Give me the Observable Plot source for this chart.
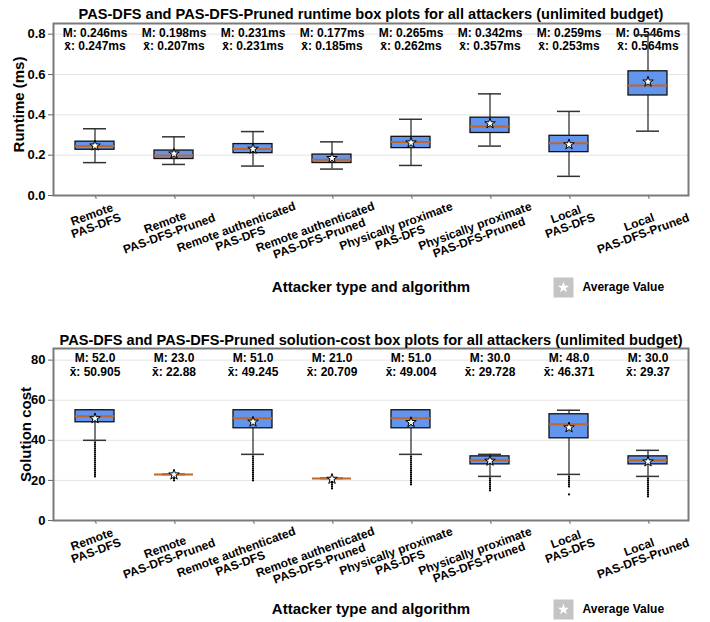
<!DOCTYPE html>
<html><head><meta charset="utf-8">
<script src="https://cdn.jsdelivr.net/npm/d3@7"></script>
<script src="https://cdn.jsdelivr.net/npm/@observablehq/plot@0.6"></script>
<style>
body{margin:0;background:#fff;}
#wrap{width:710px;}
#wrap svg{display:block;}
</style></head><body><div id="wrap"></div>
<script>
const categories = ["Remote\nPAS-DFS", "Remote\nPAS-DFS-Pruned", "Remote authenticated\nPAS-DFS", "Remote authenticated\nPAS-DFS-Pruned", "Physically proximate\nPAS-DFS", "Physically proximate\nPAS-DFS-Pruned", "Local\nPAS-DFS", "Local\nPAS-DFS-Pruned"];

// Runtime (ms)
const rtWhiskerLow  = [0.163, 0.154, 0.146, 0.131, 0.149, 0.245, 0.095, 0.319];
const rtQ1          = [0.227, 0.181, 0.210, 0.161, 0.235, 0.310, 0.215, 0.496];
const rtMedian      = [0.246, 0.198, 0.231, 0.177, 0.265, 0.342, 0.259, 0.546];
const rtQ3          = [0.267, 0.223, 0.255, 0.203, 0.291, 0.386, 0.296, 0.616];
const rtWhiskerHigh = [0.331, 0.291, 0.317, 0.266, 0.378, 0.504, 0.417, 0.797];
const rtMean        = [0.247, 0.207, 0.231, 0.185, 0.262, 0.357, 0.253, 0.564];
const rtOutliers    = [[], [], [], [], [], [], [], []];
const rtYTicks      = [0, 0.2, 0.4, 0.6, 0.8];

// Solution cost
const costWhiskerLow  = [40, 23, 33, 21, 33, 22, 23, 22];
const costQ1          = [49, 23, 46, 21, 46, 28, 41, 28];
const costMedian      = [52, 23, 51, 21, 51, 30, 48, 30];
const costQ3          = [55, 23, 55, 21, 55, 32, 53, 32];
const costWhiskerHigh = [55, 23, 55, 21, 55, 33, 55, 35];
const costMean        = [50.905, 22.88, 49.245, 20.709, 49.004, 29.728, 46.371, 29.37];
const costOutliers = [
  [22, 23, 24, 25, 26, 27, 28, 29, 30, 31, 32, 33, 34, 35, 36, 37, 38, 39],
  [20, 21, 22],
  [20, 21, 22, 23, 24, 25, 26, 27, 28, 29, 30, 31, 32],
  [16, 17, 18, 19, 20],
  [18, 19, 20, 21, 22, 23, 24, 25, 26, 27, 28, 29, 30, 31, 32],
  [15, 16, 17, 18, 19, 20, 21],
  [13, 17, 18, 19, 20, 21, 22],
  [12, 13, 14, 15, 16, 17, 18, 19, 20, 21]
];
const costYTicks = [0, 20, 40, 60, 80];

const FONT = '"Liberation Sans", Arial, Helvetica, sans-serif';

function boxChart(o) {
  const rows = categories.map((c, i) => ({
    c, lo: o.lo[i], q1: o.q1[i], med: o.med[i], q3: o.q3[i], hi: o.hi[i], mean: o.mean[i],
    mt: o.mFmt(o.med[i]), xt: o.xFmt(o.mean[i])
  }));
  const outs = o.outliers.flatMap((arr, i) => arr.map(v => ({c: categories[i], v})));
  const svg = Plot.plot({
    width: 710, height: o.height,
    marginLeft: 53, marginRight: 22, marginTop: o.marginTop, marginBottom: o.marginBottom,
    style: {fontFamily: FONT, fontWeight: "bold", fontSize: "12px", background: "white", color: "black", overflow: "visible"},
    x: {type: "band", domain: categories, padding: 0, align: 0.5},
    y: {domain: o.yDomain},
    marks: [
      Plot.gridY(o.yTicks, {stroke: "#e4e4e4", strokeOpacity: 1, strokeWidth: 1}),
      Plot.axisY(o.yTicks, {tickFormat: o.yTickFormat, tickSize: 5, tickPadding: 3, fontSize: 13, label: null, stroke: "#666"}),
      Plot.axisX({tickSize: 4, tickPadding: 4, label: null, rotate: -20, textAnchor: "middle", lineAnchor: "middle", fontSize: 12, stroke: "#666"}),
      Plot.text(rows, {x: "c", text: "mt", frameAnchor: "top", dy: 10, lineAnchor: "middle", fontSize: 12}),
      Plot.text(rows, {x: "c", text: "xt", frameAnchor: "top", dy: o.line2Dy, lineAnchor: "middle", fontSize: 12}),
      Plot.ruleX(rows, {x: "c", y1: "lo", y2: "q1", stroke: "#222", strokeWidth: 1.2}),
      Plot.ruleX(rows, {x: "c", y1: "q3", y2: "hi", stroke: "#222", strokeWidth: 1.2}),
      Plot.tickY(rows, {x: "c", y: "lo", inset: 28, stroke: "#333", strokeWidth: 1.5}),
      Plot.tickY(rows, {x: "c", y: "hi", inset: 28, stroke: "#333", strokeWidth: 1.5}),
      Plot.barY(rows, {x: "c", y1: "q1", y2: "q3", fill: "#6495ED", stroke: "#111", strokeWidth: 1.3, insetLeft: 20, insetRight: 20}),
      Plot.tickY(rows, {x: "c", y: "med", stroke: "#c0662b", strokeWidth: 2, inset: 20}),
      Plot.dot(outs, {x: "c", y: "v", r: 1.1, fill: "black", stroke: null}),
      Plot.dot(rows, {x: "c", y: "mean", symbol: "star", r: 3.3, fill: "white", stroke: "black", strokeWidth: 1}),
      Plot.frame({stroke: "#7a7a7a", strokeWidth: 2}),
      Plot.text([o.title], {frameAnchor: "top", dy: o.titleDy, lineAnchor: "middle", textAnchor: "middle", fontSize: o.titleSize}),
      Plot.text([o.yLabel], {frameAnchor: "left", rotate: -90, dx: o.yLabelDx, dy: o.yLabelDy, textAnchor: "middle", lineAnchor: "middle", fontSize: 15}),
      Plot.text(["Attacker type and algorithm"], {frameAnchor: "bottom", dy: o.xLabelDy, textAnchor: "middle", lineAnchor: "middle", fontSize: 15}),
      Plot.dot([0], {frameAnchor: "bottom-right", dx: -125, dy: o.xLabelDy, symbol: "square", r: 11.3, fill: "#c4c4c4", stroke: null}),
      Plot.dot([0], {frameAnchor: "bottom-right", dx: -125, dy: o.xLabelDy, symbol: "star", r: 3.6, fill: "white", stroke: null}),
      Plot.text(["Average Value"], {frameAnchor: "bottom-right", dx: -106, dy: o.xLabelDy, textAnchor: "start", lineAnchor: "middle", fontSize: 12})
    ]
  });
  document.getElementById("wrap").appendChild(svg);
  // place rotated two-line tick labels
  const axisY = o.height - o.marginBottom;
  const a = 20 * Math.PI / 180;
  d3.select(svg).selectAll('g[aria-label="x-axis tick label"]').each(function() {
    const g = this;
    const gt = g.getAttribute("transform") || "";
    const gm = /translate\(([-\d.e]+)[ ,]+([-\d.e]+)\)/.exec(gt);
    const gx = gm ? +gm[1] : 0;
    g.removeAttribute("transform");
    d3.select(g).selectAll("text").each(function() {
      const t = this;
      const m = /translate\(([-\d.e]+)[ ,]+([-\d.e]+)\)/.exec(t.getAttribute("transform") || "");
      const x = (m ? +m[1] : 0) + gx;
      const bb = t.getBBox();
      const w = bb.width, h = bb.height;
      const halfY = w / 2 * Math.sin(a) + h / 2 * Math.cos(a);
      const cx = x - 0.0000075 * w * w * w;
      const cy = axisY + 4 + halfY;
      const lx = bb.x + w / 2, ly = bb.y + h / 2;
      t.setAttribute("transform", `translate(${cx},${cy}) rotate(-20) translate(${-lx},${-ly})`);
    });
  });
}

boxChart({
  height: 322, marginTop: 23, marginBottom: 127, yDomain: [0, 0.853], yTicks: rtYTicks,
  yTickFormat: d3.format(".1f"), yLabel: "Runtime (ms)", yLabelDx: -34, yLabelDy: -5,
  title: "PAS-DFS and PAS-DFS-Pruned runtime box plots for all attackers (unlimited budget)", titleDy: -9, titleSize: 14.6,
  lo: rtWhiskerLow, q1: rtQ1, med: rtMedian, q3: rtQ3, hi: rtWhiskerHigh, mean: rtMean, outliers: rtOutliers,
  mFmt: v => "M: " + d3.format(".3f")(v) + "ms", xFmt: v => "x\u0304: " + d3.format(".3f")(v) + "ms",
  line2Dy: 22.7, xLabelDy: 92
});
boxChart({
  height: 300, marginTop: 26, marginBottom: 102, yDomain: [0, 85.8], yTicks: costYTicks,
  yTickFormat: d3.format("d"), yLabel: "Solution cost", yLabelDx: -27, yLabelDy: 0,
  title: "PAS-DFS and PAS-DFS-Pruned solution-cost box plots for all attackers (unlimited budget)", titleDy: -8, titleSize: 14.6,
  lo: costWhiskerLow, q1: costQ1, med: costMedian, q3: costQ3, hi: costWhiskerHigh, mean: costMean, outliers: costOutliers,
  mFmt: v => "M: " + d3.format(".1f")(v), xFmt: v => "x\u0304: " + String(v),
  line2Dy: 23.3, xLabelDy: 89
});
</script></body></html>
